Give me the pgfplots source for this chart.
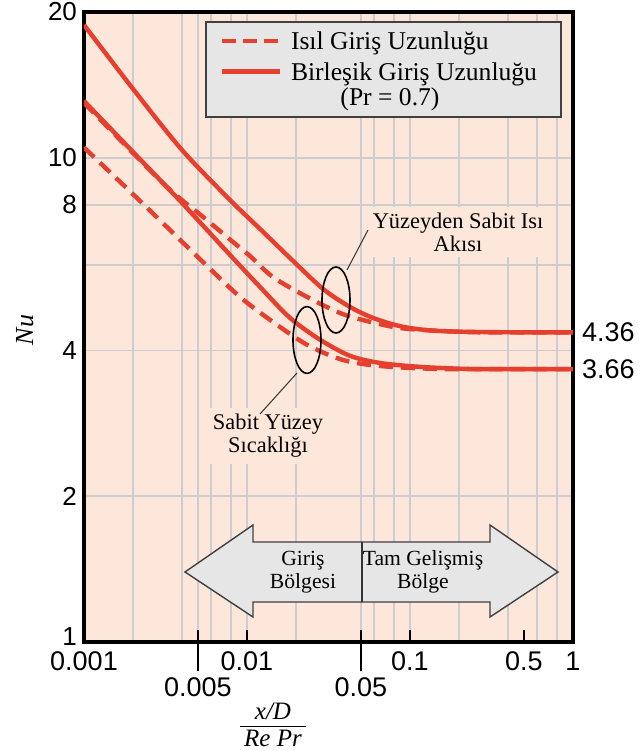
\documentclass[border=0pt]{standalone}
\usepackage{fontspec}
\setmainfont{Liberation Serif}
\newfontfamily\sansf{Liberation Sans}
\usepackage{pgfplots}
\pgfplotsset{compat=1.18}
\definecolor{peach}{RGB}{253,230,218}
\definecolor{nured}{RGB}{231,63,46}
\definecolor{lgray}{RGB}{230,230,230}
\definecolor{gridc}{RGB}{205,205,208}
\begin{document}
\begin{tikzpicture}
\path[use as bounding box] (-42pt,-54.5pt) rectangle (278pt,321pt);
\begin{axis}[
  xmode=log, ymode=log,
  scale only axis, width=244.5pt, height=315pt,
  xmin=0.001, xmax=1, ymin=1, ymax=20,
  axis background/.style={fill=peach},
  axis line style={line width=1.6pt},
  xtick={0.001,0.01,0.1,0.5,1},
  xticklabels={0.001,0.01,0.1,0.5,1},
  extra x ticks={0.005,0.05},
  extra x tick labels={0.005,0.05},
  extra x tick style={tick label style={yshift=-13pt}},
  ytick={2,4,8,10,20},
  yticklabels={2,4,8,10,20},
  extra y ticks={1},
  extra y tick labels={1},
  extra y tick style={major tick length=0pt, tick label style={yshift=2.5pt}},
  minor xtick={0.002,0.004,0.005,0.006,0.008,0.01,0.02,0.05,0.06,0.08,0.1,0.2,0.4,0.6,0.8},
  minor ytick={2,4,6,8,10},
  xminorgrids, yminorgrids,
  minor grid style={gridc, line width=0.9pt},
  minor tick length=0pt,
  major tick length=6pt,
  tick align=inside,
  xtick pos=left,
  xtick style={black, line width=0.8pt},
  ytick style={draw=none},
  /pgf/number format/assume math mode=true,
  xticklabel style={font=\sansf\fontsize{13.5}{15}\selectfont, yshift=-1.3pt},
  yticklabel style={font=\sansf\fontsize{13}{15}\selectfont},
  clip mode=individual,
  ylabel={\textit{Nu}},
  ylabel style={at={(axis description cs:-0.121,0.495)}, anchor=center, font=\fontsize{13}{15}\selectfont},
  xlabel={\begin{tabular}{@{\,}c@{\,}}\textit{x/D}\\[-1pt]\hline\textit{Re Pr}\end{tabular}},
  xlabel style={at={(axis description cs:0.3865,-0.135)}, anchor=center, font=\fontsize{12.5}{14}\selectfont},
]
% sabit yuzey sicakligi, isil giris uzunlugu
\addplot[nured, line width=2.2pt, dash pattern=on 7pt off 4pt, smooth] coordinates {
(0.001,10.5) (0.00227,8.07) (0.00537,6.09) (0.00906,5.16) (0.01444,4.58) (0.02334,4.11)
(0.03721,3.84) (0.05448,3.74) (0.0868,3.69) (0.1528,3.663) (0.3,3.66) (1,3.66)};
% sabit yuzey sicakligi, birlesik giris uzunlugu
\addplot[nured, line width=2.2pt, smooth] coordinates {
(0.001,13.1) (0.002055,10.18) (0.00399,8.07) (0.00787,6.30) (0.01202,5.41) (0.01836,4.67)
(0.02805,4.21) (0.04284,3.90) (0.06551,3.77) (0.1152,3.70) (0.2333,3.663) (0.5,3.66) (1,3.66)};
% sabit isi akisi, isil giris uzunlugu
\addplot[nured, line width=2.2pt, dash pattern=on 7pt off 4pt, smooth] coordinates {
(0.001,12.98) (0.002,10.23) (0.003372,8.58) (0.005372,7.55) (0.008205,6.70) (0.01043,6.27)
(0.01444,5.67) (0.02334,5.16) (0.03721,4.78) (0.05448,4.60) (0.0868,4.45) (0.1528,4.39)
(0.2686,4.36) (0.5,4.36) (1,4.36)};
% sabit isi akisi, birlesik giris uzunlugu
\addplot[nured, line width=2.2pt, smooth] coordinates {
(0.001,18.81) (0.002,13.87) (0.00399,10.38) (0.00787,8.18) (0.01202,7.13) (0.01836,6.21)
(0.02927,5.36) (0.04284,4.92) (0.05929,4.67) (0.0868,4.49) (0.1327,4.40) (0.2333,4.37)
(0.5,4.36) (1,4.36)};
\draw[line width=0.8pt] (axis cs:0.005,1) -- ++(0pt,-14.5pt);
\draw[line width=0.8pt] (axis cs:0.05,1) -- ++(0pt,-14.5pt);
\node[anchor=west, xshift=1pt, font=\sansf\fontsize{13.5}{15}\selectfont] at (axis cs:1,4.36) {4.36};
\node[anchor=west, xshift=1pt, font=\sansf\fontsize{13.5}{15}\selectfont] at (axis cs:1,3.66) {3.66};
\end{axis}
\begin{scope}[x=1pt, y=1pt]
% gosterge kutusu
\draw[fill=lgray, draw=black!75, line width=1pt] (61,262.4) rectangle (238.3,310.2);
\draw[nured, line width=2.2pt, dash pattern=on 7pt off 3.5pt] (68.8,300.5) -- (98,300.5);
\draw[nured, line width=2.2pt] (68.8,285.2) -- (98,285.2);
\node[anchor=base west, inner sep=0pt, font=\fontsize{12.8}{15}\selectfont] at (103.3,296) {Isıl Giriş Uzunluğu};
\node[anchor=base west, inner sep=0pt, font=\fontsize{12.8}{15}\selectfont] at (103.3,280.8) {Birleşik Giriş Uzunluğu};
\node[anchor=base, inner sep=0pt, font=\fontsize{12.8}{15}\selectfont] at (153,268.3) {(Pr = 0.7)};
% giris / tam gelismis bolge oku
\draw[fill=lgray, draw=black!75, line width=0.7pt]
  (50.5,35) -- (84.5,58.5) -- (84.5,50) -- (203,50) -- (203,58.5) -- (237,35)
  -- (203,12.5) -- (203,20) -- (84.5,20) -- (84.5,12.5) -- cycle;
\draw[black!80, line width=0.7pt] (139,20) -- (139,50);
\node[align=center, font=\fontsize{10.8}{11.5}\selectfont] at (109.5,35) {Giriş\\Bölgesi};
\node[align=center, font=\fontsize{10.8}{11.5}\selectfont] at (169.5,35) {Tam Gelişmiş\\Bölge};
% etiketler
\node[fill=peach, align=center, inner xsep=5pt, inner ysep=3pt, font=\fontsize{11.2}{11.5}\selectfont] at (187,205) {Yüzeyden Sabit Isı\\Akısı};
\node[fill=peach, align=center, inner xsep=5pt, inner ysep=3pt, font=\fontsize{11.2}{11.5}\selectfont] at (92,103) {Sabit Yüzey\\Sıcaklığı};
\draw[line width=0.8pt] (126,171) ellipse [x radius=7pt, y radius=16.5pt];
\draw[line width=0.8pt] (111.5,151) ellipse [x radius=7pt, y radius=16.7pt];
\draw[line width=0.5pt, black!80] (131.5,186) -- (142,206);
\draw[line width=0.5pt, black!80] (106.5,134.5) -- (88,114);
\end{scope}
\end{tikzpicture}
\end{document}
